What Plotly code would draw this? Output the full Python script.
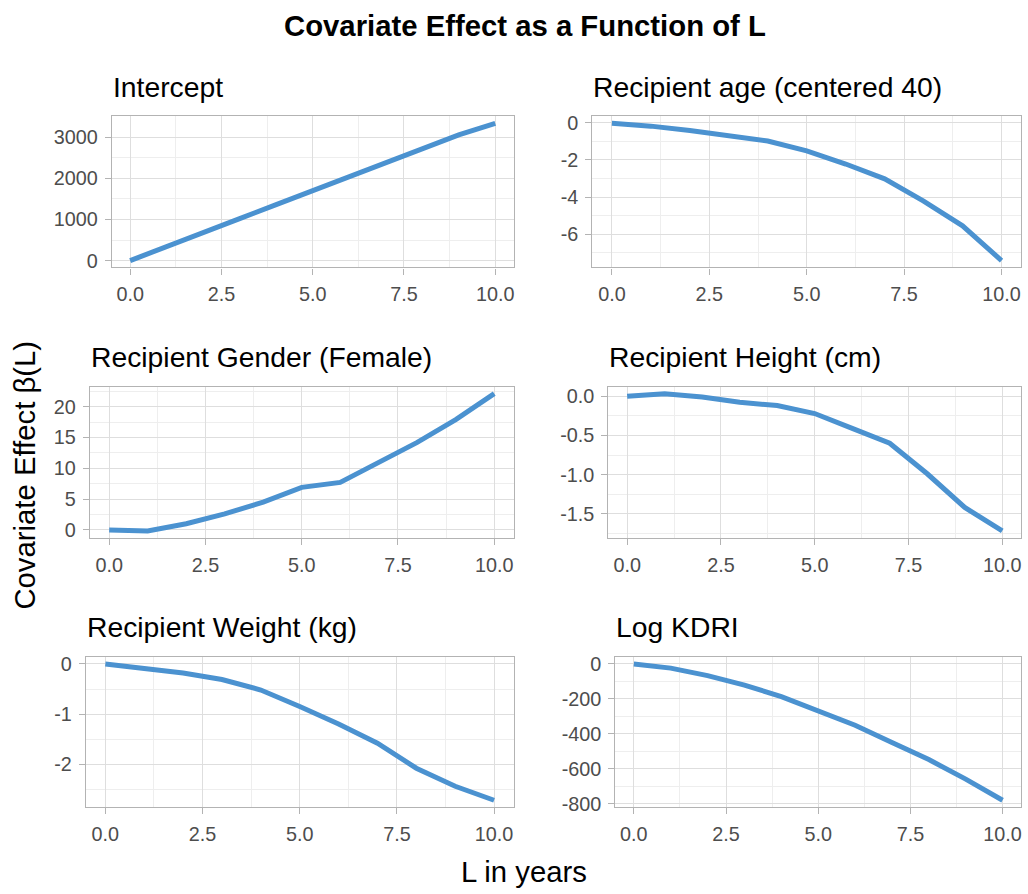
import numpy as np
import plotly.graph_objects as go

# ---------------- data ----------------
L_years = [0, 1, 2, 3, 4, 5, 6, 7, 8, 9, 10]

panel_titles = ["Intercept", "Recipient age (centered 40)", "Recipient Gender (Female)",
                "Recipient Height (cm)", "Recipient Weight (kg)", "Log KDRI"]

beta_intercept = [0, 330, 680, 1020, 1360, 1700, 2070, 2380, 2730, 3060, 3340]
beta_age = [-0.03, -0.18, -0.41, -0.69, -0.98, -1.51, -2.22, -3.02, -4.22, -5.55, -7.42]
beta_gender = [0.0, -0.16, 1.0, 2.6, 4.5, 6.9, 7.7, 11.0, 14.2, 17.9, 22.1]
beta_height = [0.0, 0.034, -0.01, -0.076, -0.118, -0.22, -0.41, -0.60, -0.99, -1.42, -1.72]
beta_weight = [0.0, -0.10, -0.18, -0.31, -0.52, -0.85, -1.20, -1.58, -2.08, -2.44, -2.72]
beta_logkdri = [0, -24, -67, -121, -187, -267, -351, -450, -548, -660, -781]

series = [beta_intercept, beta_age, beta_gender, beta_height, beta_weight, beta_logkdri]

x_tickvals = [0, 2.5, 5, 7.5, 10]
x_ticktext = ["0.0", "2.5", "5.0", "7.5", "10.0"]

y_tickvals = [
    [0, 1000, 2000, 3000],
    [0, -2, -4, -6],
    [0, 5, 10, 15, 20],
    [0, -0.5, -1.0, -1.5],
    [0, -1, -2],
    [0, -200, -400, -600, -800],
]
y_ticktext = [
    ["0", "1000", "2000", "3000"],
    ["0", "-2", "-4", "-6"],
    ["0", "5", "10", "15", "20"],
    ["0.0", "-0.5", "-1.0", "-1.5"],
    ["0", "-1", "-2"],
    ["0", "-200", "-400", "-600", "-800"],
]

# ---------------- layout constants ----------------
W, H = 1028, 894
# plot-area boxes in pixels: left, right, top, bottom
boxes = [(112, 514, 113, 266), (593, 1022, 113, 266),
         (90, 514, 387, 540), (609, 1022, 387, 540),
         (86, 514, 661, 813), (616, 1022, 661, 813)]

FONT = "Liberation Sans, Arial, sans-serif"
LINE_COLOR = "#4b92d0"
BORDER = "#b3b3b3"
GRID_MAJOR = "#dedede"
GRID_MINOR = "#eeeeee"
TICK_FONT = dict(family=FONT, size=19.8, color="#4d4d4d")


def expand(lo, hi, frac=0.05):
    d = (hi - lo) * frac
    return [lo - d, hi + d]


def minor_vals(major, rng):
    step = abs(major[1] - major[0])
    start = min(major) - step / 2
    vals = []
    v = start - 10 * step
    while v <= rng[1] + 1e-9:
        if v >= rng[0] - 1e-9:
            vals.append(round(v, 6))
        v += step
    return vals


fig = go.Figure()
layout = dict(
    width=W, height=H, autosize=False,
    margin=dict(l=0, r=0, t=0, b=0),
    paper_bgcolor="white", plot_bgcolor="white",
    showlegend=False,
    font=dict(family=FONT),
)

annotations = []
xr = expand(min(L_years), max(L_years))
for i, (ys, title, (l, r, t, b)) in enumerate(zip(series, panel_titles, boxes)):
    n = "" if i == 0 else str(i + 1)
    xa, ya = "x" + n, "y" + n
    fig.add_trace(go.Scatter(x=L_years, y=ys, mode="lines", xaxis=xa, yaxis=ya,
                             line=dict(color=LINE_COLOR, width=5),
                             hoverinfo="skip"))
    yr = expand(min(ys), max(ys))
    common = dict(showline=True, mirror=True, linecolor=BORDER, linewidth=1.3,
                  ticks="outside", ticklen=6, tickwidth=1.3, tickcolor=BORDER,
                  showgrid=True, gridcolor=GRID_MAJOR, gridwidth=1.3,
                  zeroline=False, tickfont=TICK_FONT, fixedrange=True)
    layout["xaxis" + n] = dict(
        domain=[l / W, r / W], anchor=ya, range=xr,
        tickmode="array", tickvals=x_tickvals, ticktext=x_ticktext,
        minor=dict(tickmode="array", tickvals=minor_vals(x_tickvals, xr),
                   showgrid=True, gridcolor=GRID_MINOR, gridwidth=1, ticks=""),
        ticklabelstandoff=3,
        **common)
    layout["yaxis" + n] = dict(
        domain=[1 - b / H, 1 - t / H], anchor=xa, range=yr,
        tickmode="array", tickvals=y_tickvals[i], ticktext=y_ticktext[i],
        minor=dict(tickmode="array", tickvals=minor_vals(sorted(y_tickvals[i]), yr),
                   showgrid=True, gridcolor=GRID_MINOR, gridwidth=1, ticks=""),
        ticklabelstandoff=3,
        **common)
    annotations.append(dict(text=title, xref="paper", yref="paper",
                            x=(l - 1) / W, y=1 - (t - 12) / H, xanchor="left", yanchor="bottom",
                            showarrow=False, font=dict(family=FONT, size=28.3, color="black")))

annotations.append(dict(text="<b>Covariate Effect as a Function of L</b>", xref="paper", yref="paper",
                        x=526 / W, y=1 - 21 / H, xanchor="center", yanchor="middle",
                        showarrow=False, font=dict(family=FONT, size=29.3, color="black")))
annotations.append(dict(text="L in years", xref="paper", yref="paper",
                        x=525 / W, y=1 - 878 / H, xanchor="center", yanchor="middle",
                        showarrow=False, font=dict(family=FONT, size=29.3, color="black")))
annotations.append(dict(text="Covariate Effect β(L)", xref="paper", yref="paper",
                        x=25 / W, y=1 - 476 / H, xanchor="center", yanchor="middle", textangle=-90,
                        showarrow=False, font=dict(family=FONT, size=29.3, color="black")))
layout["annotations"] = annotations

fig.update_layout(**layout)
fig.write_html("out.html")
